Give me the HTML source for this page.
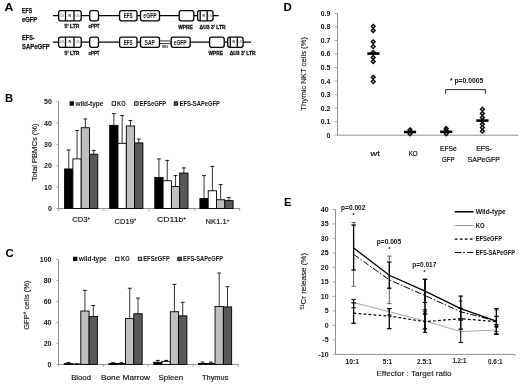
<!DOCTYPE html>
<html><head><meta charset="utf-8"><title>Figure</title>
<style>
html,body{margin:0;padding:0;background:#fff;}
body{width:520px;height:384px;overflow:hidden;}
svg{display:block;font-family:"Liberation Sans", sans-serif;filter:blur(0.35px);}
</style></head><body>
<svg width="520" height="384" viewBox="0 0 520 384">
<rect x="0" y="0" width="520" height="384" fill="#fff"/>
<text x="4.5" y="10.8" font-size="10.8" text-anchor="start" font-weight="bold" fill="#000" textLength="8.9" lengthAdjust="spacingAndGlyphs" >A</text>
<line x1="53" y1="15.65" x2="218.6" y2="15.65" stroke="#000" stroke-width="1.3" />
<text x="22.1" y="12.9" font-size="7" text-anchor="start" font-weight="bold" fill="#111" textLength="10.1" lengthAdjust="spacingAndGlyphs" stroke="#111" stroke-width="0.25">EFS</text>
<text x="22.1" y="21.7" font-size="7" text-anchor="start" font-weight="bold" fill="#111" textLength="15" lengthAdjust="spacingAndGlyphs" stroke="#111" stroke-width="0.25">eGFP</text>
<rect x="58.6" y="10.65" width="22.6" height="10.2" fill="#fff" stroke="#000" stroke-width="1.3" rx="2"/>
<line x1="65.5" y1="10.65" x2="65.5" y2="20.85" stroke="#000" stroke-width="1.3" />
<line x1="74" y1="10.65" x2="74" y2="20.85" stroke="#000" stroke-width="1.3" />
<text x="62" y="16.75" font-size="3.2" text-anchor="middle" font-weight="normal" fill="#555" >U3</text>
<text x="69.8" y="16.85" font-size="3.4" text-anchor="middle" font-weight="bold" fill="#111" >R</text>
<text x="77.6" y="16.75" font-size="3.2" text-anchor="middle" font-weight="normal" fill="#555" >U5</text>
<text x="72" y="28.450000000000003" font-size="5.3" text-anchor="middle" font-weight="bold" fill="#111" textLength="14.8" lengthAdjust="spacingAndGlyphs" stroke="#111" stroke-width="0.3">5' LTR</text>
<rect x="89.7" y="10.65" width="8.8" height="10.2" fill="#fff" stroke="#000" stroke-width="1.3" rx="2"/>
<text x="94" y="28.450000000000003" font-size="5.3" text-anchor="middle" font-weight="bold" fill="#111" textLength="11" lengthAdjust="spacingAndGlyphs" stroke="#111" stroke-width="0.3">cPPT</text>
<rect x="119.6" y="10.65" width="17.4" height="10.2" fill="#fff" stroke="#000" stroke-width="1.3" rx="2"/>
<text x="128.1" y="18.2" font-size="6.3" text-anchor="middle" font-weight="bold" fill="#111" textLength="8.9" lengthAdjust="spacingAndGlyphs" >EFS</text>
<rect x="140.5" y="10.65" width="19" height="10.2" fill="#fff" stroke="#000" stroke-width="1.3" rx="2"/>
<text x="150" y="18.2" font-size="6.3" text-anchor="middle" font-weight="bold" fill="#111" textLength="13.4" lengthAdjust="spacingAndGlyphs" >eGFP</text>
<rect x="179.2" y="10.65" width="14.6" height="10.2" fill="#fff" stroke="#000" stroke-width="1.3" rx="2"/>
<text x="185.39999999999998" y="28.750000000000004" font-size="5.3" text-anchor="middle" font-weight="bold" fill="#111" textLength="14.5" lengthAdjust="spacingAndGlyphs" stroke="#111" stroke-width="0.3">WPRE</text>
<rect x="197.6" y="10.65" width="15.4" height="10.2" fill="#fff" stroke="#000" stroke-width="1.3" rx="2"/>
<line x1="200.2" y1="10.65" x2="200.2" y2="20.85" stroke="#000" stroke-width="1.3" />
<line x1="207.2" y1="10.65" x2="207.2" y2="20.85" stroke="#000" stroke-width="1.3" />
<text x="203.7" y="16.85" font-size="3.4" text-anchor="middle" font-weight="bold" fill="#111" >R</text>
<text x="210.2" y="16.75" font-size="3.2" text-anchor="middle" font-weight="normal" fill="#555" >U5</text>
<text x="199.6" y="28.750000000000004" font-size="5.3" text-anchor="start" font-weight="bold" fill="#111" textLength="26" lengthAdjust="spacingAndGlyphs" stroke="#111" stroke-width="0.3">ΔU3 3' LTR</text>
<line x1="53" y1="42.15" x2="251" y2="42.15" stroke="#000" stroke-width="1.3" />
<text x="22.1" y="40.1" font-size="7" text-anchor="start" font-weight="bold" fill="#111" textLength="12.6" lengthAdjust="spacingAndGlyphs" stroke="#111" stroke-width="0.25">EFS-</text>
<text x="22.1" y="48.8" font-size="7" text-anchor="start" font-weight="bold" fill="#111" textLength="27.7" lengthAdjust="spacingAndGlyphs" stroke="#111" stroke-width="0.25">SAPeGFP</text>
<rect x="58.6" y="37.15" width="22.6" height="10.2" fill="#fff" stroke="#000" stroke-width="1.3" rx="2"/>
<line x1="65.5" y1="37.15" x2="65.5" y2="47.349999999999994" stroke="#000" stroke-width="1.3" />
<line x1="74" y1="37.15" x2="74" y2="47.349999999999994" stroke="#000" stroke-width="1.3" />
<text x="62" y="43.25" font-size="3.2" text-anchor="middle" font-weight="normal" fill="#555" >U3</text>
<text x="69.8" y="43.35" font-size="3.4" text-anchor="middle" font-weight="bold" fill="#111" >R</text>
<text x="77.6" y="43.25" font-size="3.2" text-anchor="middle" font-weight="normal" fill="#555" >U5</text>
<text x="72" y="54.95" font-size="5.3" text-anchor="middle" font-weight="bold" fill="#111" textLength="14.8" lengthAdjust="spacingAndGlyphs" stroke="#111" stroke-width="0.3">5' LTR</text>
<rect x="89.7" y="37.15" width="8.8" height="10.2" fill="#fff" stroke="#000" stroke-width="1.3" rx="2"/>
<text x="94" y="54.95" font-size="5.3" text-anchor="middle" font-weight="bold" fill="#111" textLength="11" lengthAdjust="spacingAndGlyphs" stroke="#111" stroke-width="0.3">cPPT</text>
<rect x="119.6" y="37.15" width="17.4" height="10.2" fill="#fff" stroke="#000" stroke-width="1.3" rx="2"/>
<text x="128.1" y="44.699999999999996" font-size="6.3" text-anchor="middle" font-weight="bold" fill="#111" textLength="8.9" lengthAdjust="spacingAndGlyphs" >EFS</text>
<rect x="140.5" y="37.15" width="19" height="10.2" fill="#fff" stroke="#000" stroke-width="1.3" rx="2"/>
<text x="149.8" y="44.699999999999996" font-size="6.3" text-anchor="middle" font-weight="bold" fill="#111" textLength="10.4" lengthAdjust="spacingAndGlyphs" >SAP</text>
<rect x="160.2" y="40.15" width="10.2" height="4" fill="#fff"/>
<line x1="159.8" y1="40.949999999999996" x2="170.6" y2="40.949999999999996" stroke="#000" stroke-width="0.8" />
<line x1="159.8" y1="43.55" x2="170.6" y2="43.55" stroke="#000" stroke-width="0.8" />
<text x="165" y="48.35" font-size="2.6" text-anchor="middle" font-weight="bold" fill="#111" >IRES</text>
<rect x="171.2" y="37.15" width="19" height="10.2" fill="#fff" stroke="#000" stroke-width="1.3" rx="2"/>
<text x="180.2" y="44.699999999999996" font-size="6.3" text-anchor="middle" font-weight="bold" fill="#111" textLength="13" lengthAdjust="spacingAndGlyphs" >eGFP</text>
<rect x="209.6" y="37.15" width="14.6" height="10.2" fill="#fff" stroke="#000" stroke-width="1.3" rx="2"/>
<text x="215.79999999999998" y="55.25" font-size="5.3" text-anchor="middle" font-weight="bold" fill="#111" textLength="14.5" lengthAdjust="spacingAndGlyphs" stroke="#111" stroke-width="0.3">WPRE</text>
<rect x="227.7" y="37.15" width="15.4" height="10.2" fill="#fff" stroke="#000" stroke-width="1.3" rx="2"/>
<line x1="230.29999999999998" y1="37.15" x2="230.29999999999998" y2="47.349999999999994" stroke="#000" stroke-width="1.3" />
<line x1="237.29999999999998" y1="37.15" x2="237.29999999999998" y2="47.349999999999994" stroke="#000" stroke-width="1.3" />
<text x="233.79999999999998" y="43.35" font-size="3.4" text-anchor="middle" font-weight="bold" fill="#111" >R</text>
<text x="240.29999999999998" y="43.25" font-size="3.2" text-anchor="middle" font-weight="normal" fill="#555" >U5</text>
<text x="229.7" y="55.25" font-size="5.3" text-anchor="start" font-weight="bold" fill="#111" textLength="26" lengthAdjust="spacingAndGlyphs" stroke="#111" stroke-width="0.3">ΔU3 3' LTR</text>
<text x="5.05" y="101.9" font-size="10.8" text-anchor="start" font-weight="bold" fill="#000" textLength="8.1" lengthAdjust="spacingAndGlyphs" >B</text>
<line x1="58.5" y1="101.6" x2="58.5" y2="208.5" stroke="#909090" stroke-width="1" />
<line x1="58.5" y1="208.5" x2="240" y2="208.5" stroke="#909090" stroke-width="1" />
<line x1="56.3" y1="208.5" x2="58.5" y2="208.5" stroke="#909090" stroke-width="0.8" />
<text x="51.9" y="211.0" font-size="7" text-anchor="end" font-weight="bold" fill="#111" >0</text>
<line x1="56.3" y1="187.13" x2="58.5" y2="187.13" stroke="#909090" stroke-width="0.8" />
<text x="51.9" y="189.63" font-size="7" text-anchor="end" font-weight="bold" fill="#111" >10</text>
<line x1="56.3" y1="165.76" x2="58.5" y2="165.76" stroke="#909090" stroke-width="0.8" />
<text x="51.9" y="168.26" font-size="7" text-anchor="end" font-weight="bold" fill="#111" >20</text>
<line x1="56.3" y1="144.39" x2="58.5" y2="144.39" stroke="#909090" stroke-width="0.8" />
<text x="51.9" y="146.89" font-size="7" text-anchor="end" font-weight="bold" fill="#111" >30</text>
<line x1="56.3" y1="123.02" x2="58.5" y2="123.02" stroke="#909090" stroke-width="0.8" />
<text x="51.9" y="125.52" font-size="7" text-anchor="end" font-weight="bold" fill="#111" >40</text>
<line x1="56.3" y1="101.65" x2="58.5" y2="101.65" stroke="#909090" stroke-width="0.8" />
<text x="51.9" y="104.15" font-size="7" text-anchor="end" font-weight="bold" fill="#111" >50</text>
<line x1="58.5" y1="208.5" x2="58.5" y2="211.0" stroke="#909090" stroke-width="0.8" />
<line x1="103.8" y1="208.5" x2="103.8" y2="211.0" stroke="#909090" stroke-width="0.8" />
<line x1="149.1" y1="208.5" x2="149.1" y2="211.0" stroke="#909090" stroke-width="0.8" />
<line x1="194.39999999999998" y1="208.5" x2="194.39999999999998" y2="211.0" stroke="#909090" stroke-width="0.8" />
<line x1="239.7" y1="208.5" x2="239.7" y2="211.0" stroke="#909090" stroke-width="0.8" />
<rect x="64.6" y="168.97" width="8.3" height="39.53" fill="#000" stroke="#000" stroke-width="0.9" rx="0"/>
<line x1="68.75" y1="168.97" x2="68.75" y2="149.95" stroke="#000" stroke-width="0.8" />
<line x1="66.85" y1="149.95" x2="70.65" y2="149.95" stroke="#000" stroke-width="0.9" />
<rect x="72.9" y="158.92" width="8.3" height="49.58" fill="#fff" stroke="#000" stroke-width="0.9" rx="0"/>
<line x1="77.05" y1="158.92" x2="77.05" y2="130.5" stroke="#000" stroke-width="0.8" />
<line x1="75.15" y1="130.5" x2="78.95" y2="130.5" stroke="#000" stroke-width="0.9" />
<rect x="81.2" y="127.72" width="8.3" height="80.78" fill="#bfbfbf" stroke="#000" stroke-width="0.9" rx="0"/>
<line x1="85.35" y1="127.72" x2="85.35" y2="118.96" stroke="#000" stroke-width="0.8" />
<line x1="83.45" y1="118.96" x2="87.25" y2="118.96" stroke="#000" stroke-width="0.9" />
<rect x="89.5" y="154.22" width="8.3" height="54.28" fill="#595959" stroke="#000" stroke-width="0.9" rx="0"/>
<line x1="93.65" y1="154.22" x2="93.65" y2="150.37" stroke="#000" stroke-width="0.8" />
<line x1="91.75" y1="150.37" x2="95.55" y2="150.37" stroke="#000" stroke-width="0.9" />
<rect x="109.7" y="125.37" width="8.3" height="83.13" fill="#000" stroke="#000" stroke-width="0.9" rx="0"/>
<line x1="113.85" y1="125.37" x2="113.85" y2="113.62" stroke="#000" stroke-width="0.8" />
<line x1="111.95" y1="113.62" x2="115.75" y2="113.62" stroke="#000" stroke-width="0.9" />
<rect x="118.0" y="143.32" width="8.3" height="65.18" fill="#fff" stroke="#000" stroke-width="0.9" rx="0"/>
<line x1="122.15" y1="143.32" x2="122.15" y2="115.54" stroke="#000" stroke-width="0.8" />
<line x1="120.25" y1="115.54" x2="124.05" y2="115.54" stroke="#000" stroke-width="0.9" />
<rect x="126.3" y="126.01" width="8.3" height="82.49" fill="#bfbfbf" stroke="#000" stroke-width="0.9" rx="0"/>
<line x1="130.45" y1="126.01" x2="130.45" y2="120.46" stroke="#000" stroke-width="0.8" />
<line x1="128.55" y1="120.46" x2="132.35" y2="120.46" stroke="#000" stroke-width="0.9" />
<rect x="134.6" y="142.89" width="8.3" height="65.61" fill="#595959" stroke="#000" stroke-width="0.9" rx="0"/>
<line x1="138.75" y1="142.89" x2="138.75" y2="139.05" stroke="#000" stroke-width="0.8" />
<line x1="136.85" y1="139.05" x2="140.65" y2="139.05" stroke="#000" stroke-width="0.9" />
<rect x="154.8" y="177.51" width="8.3" height="30.99" fill="#000" stroke="#000" stroke-width="0.9" rx="0"/>
<line x1="158.95" y1="177.51" x2="158.95" y2="158.92" stroke="#000" stroke-width="0.8" />
<line x1="157.05" y1="158.92" x2="160.85" y2="158.92" stroke="#000" stroke-width="0.9" />
<rect x="163.1" y="180.72" width="8.3" height="27.78" fill="#fff" stroke="#000" stroke-width="0.9" rx="0"/>
<line x1="167.25" y1="180.72" x2="167.25" y2="160.42" stroke="#000" stroke-width="0.8" />
<line x1="165.35" y1="160.42" x2="169.15" y2="160.42" stroke="#000" stroke-width="0.9" />
<rect x="171.4" y="186.49" width="8.3" height="22.01" fill="#bfbfbf" stroke="#000" stroke-width="0.9" rx="0"/>
<line x1="175.55" y1="186.49" x2="175.55" y2="175.59" stroke="#000" stroke-width="0.8" />
<line x1="173.65" y1="175.59" x2="177.45" y2="175.59" stroke="#000" stroke-width="0.9" />
<rect x="179.7" y="173.03" width="8.3" height="35.47" fill="#595959" stroke="#000" stroke-width="0.9" rx="0"/>
<line x1="183.85" y1="173.03" x2="183.85" y2="167.9" stroke="#000" stroke-width="0.8" />
<line x1="181.95" y1="167.9" x2="185.75" y2="167.9" stroke="#000" stroke-width="0.9" />
<rect x="199.9" y="198.46" width="8.3" height="10.04" fill="#000" stroke="#000" stroke-width="0.9" rx="0"/>
<line x1="204.05" y1="198.46" x2="204.05" y2="175.59" stroke="#000" stroke-width="0.8" />
<line x1="202.15" y1="175.59" x2="205.95" y2="175.59" stroke="#000" stroke-width="0.9" />
<rect x="208.2" y="190.76" width="8.3" height="17.74" fill="#fff" stroke="#000" stroke-width="0.9" rx="0"/>
<line x1="212.35" y1="190.76" x2="212.35" y2="166.4" stroke="#000" stroke-width="0.8" />
<line x1="210.45" y1="166.4" x2="214.25" y2="166.4" stroke="#000" stroke-width="0.9" />
<rect x="216.5" y="199.74" width="8.3" height="8.76" fill="#bfbfbf" stroke="#000" stroke-width="0.9" rx="0"/>
<line x1="220.65" y1="199.74" x2="220.65" y2="184.57" stroke="#000" stroke-width="0.8" />
<line x1="218.75" y1="184.57" x2="222.55" y2="184.57" stroke="#000" stroke-width="0.9" />
<rect x="224.8" y="200.59" width="8.3" height="7.91" fill="#595959" stroke="#000" stroke-width="0.9" rx="0"/>
<line x1="228.95" y1="200.59" x2="228.95" y2="197.6" stroke="#000" stroke-width="0.8" />
<line x1="227.05" y1="197.6" x2="230.85" y2="197.6" stroke="#000" stroke-width="0.9" />
<rect x="70.0" y="101.75" width="3.5" height="3.5" fill="#000" stroke="#000" stroke-width="0.8" rx="0"/>
<text x="75.4" y="105.6" font-size="6.8" text-anchor="start" font-weight="bold" fill="#111" textLength="27.9" lengthAdjust="spacingAndGlyphs" >wild-type</text>
<rect x="112.10000000000001" y="101.75" width="3.5" height="3.5" fill="#fff" stroke="#000" stroke-width="0.8" rx="0"/>
<text x="117.1" y="105.6" font-size="6.8" text-anchor="start" font-weight="bold" fill="#111" textLength="8.7" lengthAdjust="spacingAndGlyphs" >KO</text>
<rect x="134.6" y="101.75" width="3.5" height="3.5" fill="#bfbfbf" stroke="#000" stroke-width="0.8" rx="0"/>
<text x="139.7" y="105.6" font-size="6.8" text-anchor="start" font-weight="bold" fill="#111" textLength="26.4" lengthAdjust="spacingAndGlyphs" >EFSeGFP</text>
<rect x="174.2" y="101.75" width="3.5" height="3.5" fill="#595959" stroke="#000" stroke-width="0.8" rx="0"/>
<text x="179.7" y="105.6" font-size="6.8" text-anchor="start" font-weight="bold" fill="#111" textLength="40.2" lengthAdjust="spacingAndGlyphs" >EFS-SAPeGFP</text>
<text x="72.3" y="222.3" font-size="8" text-anchor="start" font-weight="normal" fill="#111" textLength="17.7" lengthAdjust="spacingAndGlyphs" stroke="#111" stroke-width="0.16">CD3<tspan font-size="4.5" dy="-2.6">+</tspan></text>
<text x="114.6" y="223.7" font-size="8" text-anchor="start" font-weight="normal" fill="#111" textLength="21.7" lengthAdjust="spacingAndGlyphs" stroke="#111" stroke-width="0.16">CD19<tspan font-size="4.5" dy="-2.6">+</tspan></text>
<text x="157" y="222.3" font-size="8" text-anchor="start" font-weight="normal" fill="#111" textLength="29.2" lengthAdjust="spacingAndGlyphs" stroke="#111" stroke-width="0.16">CD11b<tspan font-size="4.5" dy="-2.6">+</tspan></text>
<text x="205.6" y="224.1" font-size="8" text-anchor="start" font-weight="normal" fill="#111" textLength="23.6" lengthAdjust="spacingAndGlyphs" stroke="#111" stroke-width="0.16">NK1.1<tspan font-size="4.5" dy="-2.6">+</tspan></text>
<text transform="translate(36.7,152.3) rotate(-90)" font-size="8" text-anchor="middle" fill="#111" stroke="#111" stroke-width="0.12" textLength="57.8" lengthAdjust="spacingAndGlyphs">Total PBMCs (%)</text>
<text x="5.55" y="256.8" font-size="10.8" text-anchor="start" font-weight="bold" fill="#000" textLength="8.3" lengthAdjust="spacingAndGlyphs" >C</text>
<line x1="58.5" y1="259.4" x2="58.5" y2="364.4" stroke="#909090" stroke-width="1" />
<line x1="58.5" y1="364.4" x2="238.5" y2="364.4" stroke="#909090" stroke-width="1" />
<line x1="56.3" y1="364.4" x2="58.5" y2="364.4" stroke="#909090" stroke-width="0.8" />
<text x="51.5" y="366.9" font-size="7" text-anchor="end" font-weight="bold" fill="#111" >0</text>
<line x1="56.3" y1="343.41999999999996" x2="58.5" y2="343.41999999999996" stroke="#909090" stroke-width="0.8" />
<text x="51.5" y="345.92" font-size="7" text-anchor="end" font-weight="bold" fill="#111" >20</text>
<line x1="56.3" y1="322.44" x2="58.5" y2="322.44" stroke="#909090" stroke-width="0.8" />
<text x="51.5" y="324.94" font-size="7" text-anchor="end" font-weight="bold" fill="#111" >40</text>
<line x1="56.3" y1="301.46" x2="58.5" y2="301.46" stroke="#909090" stroke-width="0.8" />
<text x="51.5" y="303.96" font-size="7" text-anchor="end" font-weight="bold" fill="#111" >60</text>
<line x1="56.3" y1="280.48" x2="58.5" y2="280.48" stroke="#909090" stroke-width="0.8" />
<text x="51.5" y="282.98" font-size="7" text-anchor="end" font-weight="bold" fill="#111" >80</text>
<line x1="56.3" y1="259.5" x2="58.5" y2="259.5" stroke="#909090" stroke-width="0.8" />
<text x="51.5" y="262.0" font-size="7" text-anchor="end" font-weight="bold" fill="#111" >100</text>
<line x1="58.5" y1="364.4" x2="58.5" y2="366.9" stroke="#909090" stroke-width="0.8" />
<line x1="103.4" y1="364.4" x2="103.4" y2="366.9" stroke="#909090" stroke-width="0.8" />
<line x1="148.3" y1="364.4" x2="148.3" y2="366.9" stroke="#909090" stroke-width="0.8" />
<line x1="193.2" y1="364.4" x2="193.2" y2="366.9" stroke="#909090" stroke-width="0.8" />
<line x1="238.1" y1="364.4" x2="238.1" y2="366.9" stroke="#909090" stroke-width="0.8" />
<rect x="64.2" y="363.67" width="8.3" height="0.73" fill="#000" stroke="#000" stroke-width="0.9" rx="0"/>
<line x1="68.35" y1="363.67" x2="68.35" y2="362.51" stroke="#000" stroke-width="0.8" />
<line x1="66.45" y1="362.51" x2="70.25" y2="362.51" stroke="#000" stroke-width="0.9" />
<rect x="72.5" y="364.09" width="8.3" height="0.31" fill="#fff" stroke="#000" stroke-width="0.9" rx="0"/>
<line x1="76.65" y1="364.09" x2="76.65" y2="363.77" stroke="#000" stroke-width="0.8" />
<line x1="74.75" y1="363.77" x2="78.55" y2="363.77" stroke="#000" stroke-width="0.9" />
<rect x="80.8" y="311.01" width="8.3" height="53.39" fill="#bfbfbf" stroke="#000" stroke-width="0.9" rx="0"/>
<line x1="84.95" y1="311.01" x2="84.95" y2="290.34" stroke="#000" stroke-width="0.8" />
<line x1="83.05" y1="290.34" x2="86.85" y2="290.34" stroke="#000" stroke-width="0.9" />
<rect x="89.1" y="316.46" width="8.3" height="47.94" fill="#595959" stroke="#000" stroke-width="0.9" rx="0"/>
<line x1="93.25" y1="316.46" x2="93.25" y2="305.45" stroke="#000" stroke-width="0.8" />
<line x1="91.35" y1="305.45" x2="95.15" y2="305.45" stroke="#000" stroke-width="0.9" />
<rect x="108.95" y="363.56" width="8.3" height="0.84" fill="#000" stroke="#000" stroke-width="0.9" rx="0"/>
<line x1="113.1" y1="363.56" x2="113.1" y2="362.72" stroke="#000" stroke-width="0.8" />
<line x1="111.2" y1="362.72" x2="115.0" y2="362.72" stroke="#000" stroke-width="0.9" />
<rect x="117.25" y="363.56" width="8.3" height="0.84" fill="#fff" stroke="#000" stroke-width="0.9" rx="0"/>
<line x1="121.4" y1="363.56" x2="121.4" y2="362.72" stroke="#000" stroke-width="0.8" />
<line x1="119.5" y1="362.72" x2="123.3" y2="362.72" stroke="#000" stroke-width="0.9" />
<rect x="125.55" y="318.56" width="8.3" height="45.84" fill="#bfbfbf" stroke="#000" stroke-width="0.9" rx="0"/>
<line x1="129.7" y1="318.56" x2="129.7" y2="288.24" stroke="#000" stroke-width="0.8" />
<line x1="127.8" y1="288.24" x2="131.6" y2="288.24" stroke="#000" stroke-width="0.9" />
<rect x="133.85" y="313.73" width="8.3" height="50.67" fill="#595959" stroke="#000" stroke-width="0.9" rx="0"/>
<line x1="138.0" y1="313.73" x2="138.0" y2="298.1" stroke="#000" stroke-width="0.8" />
<line x1="136.1" y1="298.1" x2="139.9" y2="298.1" stroke="#000" stroke-width="0.9" />
<rect x="153.7" y="362.3" width="8.3" height="2.1" fill="#000" stroke="#000" stroke-width="0.9" rx="0"/>
<line x1="157.85" y1="362.3" x2="157.85" y2="360.41" stroke="#000" stroke-width="0.8" />
<line x1="155.95" y1="360.41" x2="159.75" y2="360.41" stroke="#000" stroke-width="0.9" />
<rect x="162.0" y="361.36" width="8.3" height="3.04" fill="#fff" stroke="#000" stroke-width="0.9" rx="0"/>
<line x1="166.15" y1="361.36" x2="166.15" y2="360.41" stroke="#000" stroke-width="0.8" />
<line x1="164.25" y1="360.41" x2="168.05" y2="360.41" stroke="#000" stroke-width="0.9" />
<rect x="170.3" y="311.74" width="8.3" height="52.66" fill="#bfbfbf" stroke="#000" stroke-width="0.9" rx="0"/>
<line x1="174.45" y1="311.74" x2="174.45" y2="284.36" stroke="#000" stroke-width="0.8" />
<line x1="172.55" y1="284.36" x2="176.35" y2="284.36" stroke="#000" stroke-width="0.9" />
<rect x="178.6" y="315.83" width="8.3" height="48.57" fill="#595959" stroke="#000" stroke-width="0.9" rx="0"/>
<line x1="182.75" y1="315.83" x2="182.75" y2="302.3" stroke="#000" stroke-width="0.8" />
<line x1="180.85" y1="302.3" x2="184.65" y2="302.3" stroke="#000" stroke-width="0.9" />
<rect x="198.45" y="363.46" width="8.3" height="0.94" fill="#000" stroke="#000" stroke-width="0.9" rx="0"/>
<line x1="202.6" y1="363.46" x2="202.6" y2="362.09" stroke="#000" stroke-width="0.8" />
<line x1="200.7" y1="362.09" x2="204.5" y2="362.09" stroke="#000" stroke-width="0.9" />
<rect x="206.75" y="363.46" width="8.3" height="0.94" fill="#fff" stroke="#000" stroke-width="0.9" rx="0"/>
<line x1="210.9" y1="363.46" x2="210.9" y2="362.09" stroke="#000" stroke-width="0.8" />
<line x1="209.0" y1="362.09" x2="212.8" y2="362.09" stroke="#000" stroke-width="0.9" />
<rect x="215.05" y="306.5" width="8.3" height="57.9" fill="#bfbfbf" stroke="#000" stroke-width="0.9" rx="0"/>
<line x1="219.2" y1="306.5" x2="219.2" y2="273.03" stroke="#000" stroke-width="0.8" />
<line x1="217.3" y1="273.03" x2="221.1" y2="273.03" stroke="#000" stroke-width="0.9" />
<rect x="223.35" y="306.91" width="8.3" height="57.49" fill="#595959" stroke="#000" stroke-width="0.9" rx="0"/>
<line x1="227.5" y1="306.91" x2="227.5" y2="286.67" stroke="#000" stroke-width="0.8" />
<line x1="225.6" y1="286.67" x2="229.4" y2="286.67" stroke="#000" stroke-width="0.9" />
<rect x="73.5" y="257.15" width="3.5" height="3.5" fill="#000" stroke="#000" stroke-width="0.8" rx="0"/>
<text x="79" y="261.0" font-size="6.8" text-anchor="start" font-weight="bold" fill="#111" textLength="27.6" lengthAdjust="spacingAndGlyphs" >wild-type</text>
<rect x="115.5" y="257.15" width="3.5" height="3.5" fill="#fff" stroke="#000" stroke-width="0.8" rx="0"/>
<text x="121" y="261.0" font-size="6.8" text-anchor="start" font-weight="bold" fill="#111" textLength="8.6" lengthAdjust="spacingAndGlyphs" >KO</text>
<rect x="138.2" y="257.15" width="3.5" height="3.5" fill="#bfbfbf" stroke="#000" stroke-width="0.8" rx="0"/>
<text x="143.2" y="261.0" font-size="6.8" text-anchor="start" font-weight="bold" fill="#111" textLength="26.6" lengthAdjust="spacingAndGlyphs" >EFSeGFP</text>
<rect x="177.79999999999998" y="257.15" width="3.5" height="3.5" fill="#595959" stroke="#000" stroke-width="0.8" rx="0"/>
<text x="183.1" y="261.0" font-size="6.8" text-anchor="start" font-weight="bold" fill="#111" textLength="40" lengthAdjust="spacingAndGlyphs" >EFS-SAPeGFP</text>
<text x="71.2" y="379.6" font-size="8" text-anchor="start" font-weight="normal" fill="#111" textLength="19.8" lengthAdjust="spacingAndGlyphs" stroke="#111" stroke-width="0.16">Blood</text>
<text x="101" y="379.6" font-size="8" text-anchor="start" font-weight="normal" fill="#111" textLength="49" lengthAdjust="spacingAndGlyphs" stroke="#111" stroke-width="0.16">Bone Marrow</text>
<text x="158.6" y="379.6" font-size="8" text-anchor="start" font-weight="normal" fill="#111" textLength="24.4" lengthAdjust="spacingAndGlyphs" stroke="#111" stroke-width="0.16">Spleen</text>
<text x="202" y="379.6" font-size="8" text-anchor="start" font-weight="normal" fill="#111" textLength="26.4" lengthAdjust="spacingAndGlyphs" stroke="#111" stroke-width="0.16">Thymus</text>
<text transform="translate(28.9,305.1) rotate(-90)" font-size="8" text-anchor="middle" fill="#111" stroke="#111" stroke-width="0.12" textLength="49.5" lengthAdjust="spacingAndGlyphs">GFP<tspan font-size="4.5" dy="-2.6">+</tspan><tspan dy="2.6"> cells (%)</tspan></text>
<text x="283.4" y="10.8" font-size="10.8" text-anchor="start" font-weight="bold" fill="#000" textLength="8.3" lengthAdjust="spacingAndGlyphs" >D</text>
<line x1="337.5" y1="13.3" x2="337.5" y2="135.2" stroke="#909090" stroke-width="1" />
<line x1="337.5" y1="135.2" x2="518.5" y2="135.2" stroke="#909090" stroke-width="1" />
<line x1="334.5" y1="135.2" x2="337.5" y2="135.2" stroke="#909090" stroke-width="0.8" />
<text x="330.3" y="137.65" font-size="6.9" text-anchor="end" font-weight="bold" fill="#111" >0</text>
<line x1="334.5" y1="121.66999999999999" x2="337.5" y2="121.66999999999999" stroke="#909090" stroke-width="0.8" />
<text x="330.3" y="124.12" font-size="6.9" text-anchor="end" font-weight="bold" fill="#111" >0.1</text>
<line x1="334.5" y1="108.13999999999999" x2="337.5" y2="108.13999999999999" stroke="#909090" stroke-width="0.8" />
<text x="330.3" y="110.59" font-size="6.9" text-anchor="end" font-weight="bold" fill="#111" >0.2</text>
<line x1="334.5" y1="94.60999999999999" x2="337.5" y2="94.60999999999999" stroke="#909090" stroke-width="0.8" />
<text x="330.3" y="97.06" font-size="6.9" text-anchor="end" font-weight="bold" fill="#111" >0.3</text>
<line x1="334.5" y1="81.07999999999998" x2="337.5" y2="81.07999999999998" stroke="#909090" stroke-width="0.8" />
<text x="330.3" y="83.53" font-size="6.9" text-anchor="end" font-weight="bold" fill="#111" >0.4</text>
<line x1="334.5" y1="67.54999999999998" x2="337.5" y2="67.54999999999998" stroke="#909090" stroke-width="0.8" />
<text x="330.3" y="70.0" font-size="6.9" text-anchor="end" font-weight="bold" fill="#111" >0.5</text>
<line x1="334.5" y1="54.01999999999998" x2="337.5" y2="54.01999999999998" stroke="#909090" stroke-width="0.8" />
<text x="330.3" y="56.47" font-size="6.9" text-anchor="end" font-weight="bold" fill="#111" >0.6</text>
<line x1="334.5" y1="40.48999999999998" x2="337.5" y2="40.48999999999998" stroke="#909090" stroke-width="0.8" />
<text x="330.3" y="42.94" font-size="6.9" text-anchor="end" font-weight="bold" fill="#111" >0.7</text>
<line x1="334.5" y1="26.95999999999998" x2="337.5" y2="26.95999999999998" stroke="#909090" stroke-width="0.8" />
<text x="330.3" y="29.41" font-size="6.9" text-anchor="end" font-weight="bold" fill="#111" >0.8</text>
<line x1="334.5" y1="13.429999999999978" x2="337.5" y2="13.429999999999978" stroke="#909090" stroke-width="0.8" />
<text x="330.3" y="15.88" font-size="6.9" text-anchor="end" font-weight="bold" fill="#111" >0.9</text>
<path d="M373.2 24.3L375.2 26.3L373.2 28.3L371.2 26.3Z" fill="#b4b4b4" stroke="#0c0c0c" stroke-width="1.3"/>
<path d="M373.2 28.5L375.2 30.5L373.2 32.5L371.2 30.5Z" fill="#b4b4b4" stroke="#0c0c0c" stroke-width="1.3"/>
<path d="M373.2 39.8L375.2 41.8L373.2 43.8L371.2 41.8Z" fill="#b4b4b4" stroke="#0c0c0c" stroke-width="1.3"/>
<path d="M373.2 44.6L375.2 46.6L373.2 48.6L371.2 46.6Z" fill="#b4b4b4" stroke="#0c0c0c" stroke-width="1.3"/>
<path d="M373.2 50.5L375.2 52.5L373.2 54.5L371.2 52.5Z" fill="#b4b4b4" stroke="#0c0c0c" stroke-width="1.3"/>
<path d="M373.2 55.5L375.2 57.5L373.2 59.5L371.2 57.5Z" fill="#b4b4b4" stroke="#0c0c0c" stroke-width="1.3"/>
<path d="M373.2 59.5L375.2 61.5L373.2 63.5L371.2 61.5Z" fill="#b4b4b4" stroke="#0c0c0c" stroke-width="1.3"/>
<path d="M373.2 75.3L375.2 77.3L373.2 79.3L371.2 77.3Z" fill="#b4b4b4" stroke="#0c0c0c" stroke-width="1.3"/>
<path d="M373.2 79.6L375.2 81.6L373.2 83.6L371.2 81.6Z" fill="#b4b4b4" stroke="#0c0c0c" stroke-width="1.3"/>
<line x1="367.29999999999995" y1="53.6" x2="379.5" y2="53.6" stroke="#000" stroke-width="2.6" />
<path d="M410 127.80000000000001L412.0 129.8L410 131.8L408.0 129.8Z" fill="#b4b4b4" stroke="#0c0c0c" stroke-width="1.3"/>
<path d="M410 129.8L412.0 131.8L410 133.8L408.0 131.8Z" fill="#b4b4b4" stroke="#0c0c0c" stroke-width="1.3"/>
<path d="M410 131.8L412.0 133.8L410 135.8L408.0 133.8Z" fill="#b4b4b4" stroke="#0c0c0c" stroke-width="1.3"/>
<line x1="403.9" y1="132" x2="416.1" y2="132" stroke="#000" stroke-width="2.6" />
<path d="M446.2 126.4L448.2 128.4L446.2 130.4L444.2 128.4Z" fill="#b4b4b4" stroke="#0c0c0c" stroke-width="1.3"/>
<path d="M446.2 128.5L448.2 130.5L446.2 132.5L444.2 130.5Z" fill="#b4b4b4" stroke="#0c0c0c" stroke-width="1.3"/>
<path d="M446.2 130.3L448.2 132.3L446.2 134.3L444.2 132.3Z" fill="#b4b4b4" stroke="#0c0c0c" stroke-width="1.3"/>
<path d="M446.2 131.8L448.2 133.8L446.2 135.8L444.2 133.8Z" fill="#b4b4b4" stroke="#0c0c0c" stroke-width="1.3"/>
<line x1="440.09999999999997" y1="131.8" x2="452.3" y2="131.8" stroke="#000" stroke-width="2.6" />
<path d="M482.4 107.2L484.4 109.2L482.4 111.2L480.4 109.2Z" fill="#b4b4b4" stroke="#0c0c0c" stroke-width="1.3"/>
<path d="M482.4 111.5L484.4 113.5L482.4 115.5L480.4 113.5Z" fill="#b4b4b4" stroke="#0c0c0c" stroke-width="1.3"/>
<path d="M482.4 115.5L484.4 117.5L482.4 119.5L480.4 117.5Z" fill="#b4b4b4" stroke="#0c0c0c" stroke-width="1.3"/>
<path d="M482.4 118.8L484.4 120.8L482.4 122.8L480.4 120.8Z" fill="#b4b4b4" stroke="#0c0c0c" stroke-width="1.3"/>
<path d="M482.4 122.2L484.4 124.2L482.4 126.2L480.4 124.2Z" fill="#b4b4b4" stroke="#0c0c0c" stroke-width="1.3"/>
<path d="M482.4 125.6L484.4 127.6L482.4 129.6L480.4 127.6Z" fill="#b4b4b4" stroke="#0c0c0c" stroke-width="1.3"/>
<path d="M482.4 129.2L484.4 131.2L482.4 133.2L480.4 131.2Z" fill="#b4b4b4" stroke="#0c0c0c" stroke-width="1.3"/>
<line x1="476.29999999999995" y1="120.6" x2="488.5" y2="120.6" stroke="#000" stroke-width="2.6" />
<path d="M445.6 93.8V89.6H485.4V93.8" fill="none" stroke="#111" stroke-width="0.9"/>
<text x="450" y="82.5" font-size="6.6" text-anchor="start" font-weight="bold" fill="#111" textLength="33.2" lengthAdjust="spacingAndGlyphs" >* p=0.0005</text>
<text x="370.5" y="156.4" font-size="8" text-anchor="start" font-weight="normal" fill="#111" textLength="9.3" lengthAdjust="spacingAndGlyphs" stroke="#111" stroke-width="0.22">wt</text>
<text x="408.7" y="156.3" font-size="8" text-anchor="start" font-weight="normal" fill="#111" textLength="9" lengthAdjust="spacingAndGlyphs" stroke="#111" stroke-width="0.22">KO</text>
<text x="440" y="151.2" font-size="8" text-anchor="start" font-weight="normal" fill="#111" textLength="16.8" lengthAdjust="spacingAndGlyphs" stroke="#111" stroke-width="0.22">EFSe</text>
<text x="442" y="162" font-size="8" text-anchor="start" font-weight="normal" fill="#111" textLength="12.6" lengthAdjust="spacingAndGlyphs" stroke="#111" stroke-width="0.22">GFP</text>
<text x="476.2" y="151.2" font-size="8" text-anchor="start" font-weight="normal" fill="#111" textLength="15.6" lengthAdjust="spacingAndGlyphs" stroke="#111" stroke-width="0.22">EFS-</text>
<text x="467.5" y="162" font-size="8" text-anchor="start" font-weight="normal" fill="#111" textLength="32.5" lengthAdjust="spacingAndGlyphs" stroke="#111" stroke-width="0.22">SAPeGFP</text>
<text transform="translate(305.8,73.8) rotate(-90)" font-size="8" text-anchor="middle" fill="#111" stroke="#111" stroke-width="0.12" textLength="73.7" lengthAdjust="spacingAndGlyphs">Thymic NKT cells (%)</text>
<text x="284.0" y="205.75" font-size="10.8" text-anchor="start" font-weight="bold" fill="#000" textLength="7.5" lengthAdjust="spacingAndGlyphs" >E</text>
<line x1="335.5" y1="209.4" x2="335.5" y2="354.4" stroke="#909090" stroke-width="1" />
<line x1="335.5" y1="354.4" x2="515" y2="354.4" stroke="#909090" stroke-width="1" />
<line x1="332.5" y1="354.4" x2="335.5" y2="354.4" stroke="#909090" stroke-width="0.8" />
<text x="328.6" y="356.9" font-size="7" text-anchor="end" font-weight="bold" fill="#111" >-10</text>
<line x1="332.5" y1="339.9" x2="335.5" y2="339.9" stroke="#909090" stroke-width="0.8" />
<text x="328.6" y="342.4" font-size="7" text-anchor="end" font-weight="bold" fill="#111" >-5</text>
<line x1="332.5" y1="325.4" x2="335.5" y2="325.4" stroke="#909090" stroke-width="0.8" />
<text x="328.6" y="327.9" font-size="7" text-anchor="end" font-weight="bold" fill="#111" >0</text>
<line x1="332.5" y1="310.9" x2="335.5" y2="310.9" stroke="#909090" stroke-width="0.8" />
<text x="328.6" y="313.4" font-size="7" text-anchor="end" font-weight="bold" fill="#111" >5</text>
<line x1="332.5" y1="296.4" x2="335.5" y2="296.4" stroke="#909090" stroke-width="0.8" />
<text x="328.6" y="298.9" font-size="7" text-anchor="end" font-weight="bold" fill="#111" >10</text>
<line x1="332.5" y1="281.9" x2="335.5" y2="281.9" stroke="#909090" stroke-width="0.8" />
<text x="328.6" y="284.4" font-size="7" text-anchor="end" font-weight="bold" fill="#111" >15</text>
<line x1="332.5" y1="267.4" x2="335.5" y2="267.4" stroke="#909090" stroke-width="0.8" />
<text x="328.6" y="269.9" font-size="7" text-anchor="end" font-weight="bold" fill="#111" >20</text>
<line x1="332.5" y1="252.9" x2="335.5" y2="252.9" stroke="#909090" stroke-width="0.8" />
<text x="328.6" y="255.4" font-size="7" text-anchor="end" font-weight="bold" fill="#111" >25</text>
<line x1="332.5" y1="238.4" x2="335.5" y2="238.4" stroke="#909090" stroke-width="0.8" />
<text x="328.6" y="240.9" font-size="7" text-anchor="end" font-weight="bold" fill="#111" >30</text>
<line x1="332.5" y1="223.9" x2="335.5" y2="223.9" stroke="#909090" stroke-width="0.8" />
<text x="328.6" y="226.4" font-size="7" text-anchor="end" font-weight="bold" fill="#111" >35</text>
<line x1="332.5" y1="209.4" x2="335.5" y2="209.4" stroke="#909090" stroke-width="0.8" />
<text x="328.6" y="211.9" font-size="7" text-anchor="end" font-weight="bold" fill="#111" >40</text>
<line x1="515.0" y1="354.4" x2="515.0" y2="356.2" stroke="#909090" stroke-width="0.7" />
<text x="352.3" y="363.8" font-size="6.9" text-anchor="middle" font-weight="bold" fill="#111" textLength="13.6" lengthAdjust="spacingAndGlyphs" >10:1</text>
<text x="387.5" y="363.8" font-size="6.9" text-anchor="middle" font-weight="bold" fill="#111" textLength="9.3" lengthAdjust="spacingAndGlyphs" >5:1</text>
<text x="424.5" y="363.8" font-size="6.9" text-anchor="middle" font-weight="bold" fill="#111" textLength="14.8" lengthAdjust="spacingAndGlyphs" >2.5:1</text>
<text x="459.4" y="363.3" font-size="6.9" text-anchor="middle" font-weight="bold" fill="#111" textLength="14" lengthAdjust="spacingAndGlyphs" >1.2:1</text>
<text x="495.3" y="363.8" font-size="6.9" text-anchor="middle" font-weight="bold" fill="#111" textLength="14.6" lengthAdjust="spacingAndGlyphs" >0.6:1</text>
<polyline points="353.6,302.49 389.3,311.77 425,321.05 460.7,331.49 496.4,330.04" fill="none" stroke="#a8a8a8" stroke-width="1.15"/>
<line x1="353.6" y1="222.45" x2="353.6" y2="286.25" stroke="#3a3a3a" stroke-width="0.8" />
<line x1="351.40000000000003" y1="222.45" x2="355.8" y2="222.45" stroke="#3a3a3a" stroke-width="0.8" />
<line x1="351.40000000000003" y1="286.25" x2="355.8" y2="286.25" stroke="#3a3a3a" stroke-width="0.8" />
<line x1="353.6" y1="299.59" x2="353.6" y2="307.71" stroke="#111" stroke-width="1.1" />
<line x1="351.40000000000003" y1="299.59" x2="355.8" y2="299.59" stroke="#111" stroke-width="1.1" />
<line x1="351.40000000000003" y1="307.71" x2="355.8" y2="307.71" stroke="#111" stroke-width="1.1" />
<line x1="353.6" y1="225.06" x2="353.6" y2="270.01" stroke="#000" stroke-width="1.3" />
<line x1="351.40000000000003" y1="225.06" x2="355.8" y2="225.06" stroke="#000" stroke-width="1.3" />
<line x1="351.40000000000003" y1="270.01" x2="355.8" y2="270.01" stroke="#000" stroke-width="1.3" />
<line x1="353.6" y1="302.78" x2="353.6" y2="323.37" stroke="#000" stroke-width="1.3" />
<line x1="351.40000000000003" y1="302.78" x2="355.8" y2="302.78" stroke="#000" stroke-width="1.3" />
<line x1="351.40000000000003" y1="323.37" x2="355.8" y2="323.37" stroke="#000" stroke-width="1.3" />
<line x1="389.3" y1="256.09" x2="389.3" y2="303.65" stroke="#3a3a3a" stroke-width="0.8" />
<line x1="387.1" y1="256.09" x2="391.5" y2="256.09" stroke="#3a3a3a" stroke-width="0.8" />
<line x1="387.1" y1="303.65" x2="391.5" y2="303.65" stroke="#3a3a3a" stroke-width="0.8" />
<line x1="389.3" y1="308.58" x2="389.3" y2="314.96" stroke="#111" stroke-width="1.1" />
<line x1="387.1" y1="308.58" x2="391.5" y2="308.58" stroke="#111" stroke-width="1.1" />
<line x1="387.1" y1="314.96" x2="391.5" y2="314.96" stroke="#111" stroke-width="1.1" />
<line x1="389.3" y1="262.18" x2="389.3" y2="288.28" stroke="#000" stroke-width="1.3" />
<line x1="387.1" y1="262.18" x2="391.5" y2="262.18" stroke="#000" stroke-width="1.3" />
<line x1="387.1" y1="288.28" x2="391.5" y2="288.28" stroke="#000" stroke-width="1.3" />
<line x1="389.3" y1="308.58" x2="389.3" y2="328.59" stroke="#000" stroke-width="1.3" />
<line x1="387.1" y1="308.58" x2="391.5" y2="308.58" stroke="#000" stroke-width="1.3" />
<line x1="387.1" y1="328.59" x2="391.5" y2="328.59" stroke="#000" stroke-width="1.3" />
<line x1="425" y1="279.29" x2="425" y2="311.48" stroke="#3a3a3a" stroke-width="0.8" />
<line x1="422.8" y1="279.29" x2="427.2" y2="279.29" stroke="#3a3a3a" stroke-width="0.8" />
<line x1="422.8" y1="311.48" x2="427.2" y2="311.48" stroke="#3a3a3a" stroke-width="0.8" />
<line x1="425" y1="309.74" x2="425" y2="332.36" stroke="#111" stroke-width="1.1" />
<line x1="422.8" y1="309.74" x2="427.2" y2="309.74" stroke="#111" stroke-width="1.1" />
<line x1="422.8" y1="332.36" x2="427.2" y2="332.36" stroke="#111" stroke-width="1.1" />
<line x1="425" y1="279.29" x2="425" y2="302.49" stroke="#000" stroke-width="1.3" />
<line x1="422.8" y1="279.29" x2="427.2" y2="279.29" stroke="#000" stroke-width="1.3" />
<line x1="422.8" y1="302.49" x2="427.2" y2="302.49" stroke="#000" stroke-width="1.3" />
<line x1="425" y1="314.09" x2="425" y2="328.88" stroke="#000" stroke-width="1.3" />
<line x1="422.8" y1="314.09" x2="427.2" y2="314.09" stroke="#000" stroke-width="1.3" />
<line x1="422.8" y1="328.88" x2="427.2" y2="328.88" stroke="#000" stroke-width="1.3" />
<line x1="460.7" y1="301.04" x2="460.7" y2="319.02" stroke="#3a3a3a" stroke-width="0.8" />
<line x1="458.5" y1="301.04" x2="462.9" y2="301.04" stroke="#3a3a3a" stroke-width="0.8" />
<line x1="458.5" y1="319.02" x2="462.9" y2="319.02" stroke="#3a3a3a" stroke-width="0.8" />
<line x1="460.7" y1="318.73" x2="460.7" y2="342.51" stroke="#111" stroke-width="1.1" />
<line x1="458.5" y1="318.73" x2="462.9" y2="318.73" stroke="#111" stroke-width="1.1" />
<line x1="458.5" y1="342.51" x2="462.9" y2="342.51" stroke="#111" stroke-width="1.1" />
<line x1="460.7" y1="296.11" x2="460.7" y2="320.18" stroke="#000" stroke-width="1.3" />
<line x1="458.5" y1="296.11" x2="462.9" y2="296.11" stroke="#000" stroke-width="1.3" />
<line x1="458.5" y1="320.18" x2="462.9" y2="320.18" stroke="#000" stroke-width="1.3" />
<line x1="460.7" y1="308.29" x2="460.7" y2="329.17" stroke="#000" stroke-width="1.3" />
<line x1="458.5" y1="308.29" x2="462.9" y2="308.29" stroke="#000" stroke-width="1.3" />
<line x1="458.5" y1="329.17" x2="462.9" y2="329.17" stroke="#000" stroke-width="1.3" />
<line x1="496.4" y1="310.03" x2="496.4" y2="331.49" stroke="#3a3a3a" stroke-width="0.8" />
<line x1="494.2" y1="310.03" x2="498.59999999999997" y2="310.03" stroke="#3a3a3a" stroke-width="0.8" />
<line x1="494.2" y1="331.49" x2="498.59999999999997" y2="331.49" stroke="#3a3a3a" stroke-width="0.8" />
<line x1="496.4" y1="324.53" x2="496.4" y2="334.39" stroke="#111" stroke-width="1.1" />
<line x1="494.2" y1="324.53" x2="498.59999999999997" y2="324.53" stroke="#111" stroke-width="1.1" />
<line x1="494.2" y1="334.39" x2="498.59999999999997" y2="334.39" stroke="#111" stroke-width="1.1" />
<line x1="496.4" y1="308.58" x2="496.4" y2="333.81" stroke="#000" stroke-width="1.3" />
<line x1="494.2" y1="308.58" x2="498.59999999999997" y2="308.58" stroke="#000" stroke-width="1.3" />
<line x1="494.2" y1="333.81" x2="498.59999999999997" y2="333.81" stroke="#000" stroke-width="1.3" />
<line x1="496.4" y1="316.41" x2="496.4" y2="326.56" stroke="#000" stroke-width="1.3" />
<line x1="494.2" y1="316.41" x2="498.59999999999997" y2="316.41" stroke="#000" stroke-width="1.3" />
<line x1="494.2" y1="326.56" x2="498.59999999999997" y2="326.56" stroke="#000" stroke-width="1.3" />
<line x1="425" y1="279.29" x2="425" y2="332.36" stroke="#000" stroke-width="1.3" />
<polyline points="353.6,313.22 389.3,316.12 425,321.63 460.7,318.73 496.4,321.63" fill="none" stroke="#000" stroke-width="1.2" stroke-dasharray="2.8 2.2"/>
<polyline points="353.6,254.35 389.3,279.87 425,295.53 460.7,311.77 496.4,321.05" fill="none" stroke="#000" stroke-width="1.0" stroke-dasharray="6.5 2 1.5 2"/>
<polyline points="353.6,247.97 389.3,275.23 425,291.18 460.7,308.58 496.4,321.05" fill="none" stroke="#000" stroke-width="1.3"/>
<rect x="494.9" y="324.8" width="3" height="3" fill="#000" stroke="#000" stroke-width="0" rx="0"/>
<rect x="423.6" y="312.2" width="2.8" height="2.6" fill="#000" stroke="#000" stroke-width="0" rx="0"/>
<text x="341" y="209.8" font-size="6.6" text-anchor="start" font-weight="bold" fill="#111" textLength="24.4" lengthAdjust="spacingAndGlyphs" >p=0.002</text>
<text x="353.4" y="216.8" font-size="6" text-anchor="middle" font-weight="bold" fill="#111" >*</text>
<text x="376.8" y="244" font-size="6.6" text-anchor="start" font-weight="bold" fill="#111" textLength="24.4" lengthAdjust="spacingAndGlyphs" >p=0.005</text>
<text x="389.3" y="250.8" font-size="6" text-anchor="middle" font-weight="bold" fill="#111" >*</text>
<text x="412.3" y="266.5" font-size="6.6" text-anchor="start" font-weight="bold" fill="#111" textLength="24" lengthAdjust="spacingAndGlyphs" >p=0.017</text>
<text x="424.4" y="273.8" font-size="6" text-anchor="middle" font-weight="bold" fill="#111" >*</text>
<line x1="454.8" y1="211.8" x2="473.4" y2="211.8" stroke="#000" stroke-width="1.5" />
<text x="475.7" y="214.1" font-size="6.6" text-anchor="start" font-weight="bold" fill="#111" textLength="30" lengthAdjust="spacingAndGlyphs" >Wild-type</text>
<line x1="454.8" y1="225.6" x2="473.4" y2="225.6" stroke="#858585" stroke-width="0.9" />
<text x="475.7" y="227.9" font-size="6.6" text-anchor="start" font-weight="bold" fill="#111" textLength="9" lengthAdjust="spacingAndGlyphs" >KO</text>
<line x1="454.8" y1="239.1" x2="473.4" y2="239.1" stroke="#000" stroke-width="1.2" stroke-dasharray="2.8 2.2"/>
<text x="475.7" y="241.3" font-size="6.6" text-anchor="start" font-weight="bold" fill="#111" textLength="26.3" lengthAdjust="spacingAndGlyphs" >EFSeGFP</text>
<line x1="454.8" y1="252.5" x2="473.4" y2="252.5" stroke="#000" stroke-width="1.2" stroke-dasharray="6.5 2 1.5 2"/>
<text x="475.7" y="254.6" font-size="6.6" text-anchor="start" font-weight="bold" fill="#111" textLength="39.3" lengthAdjust="spacingAndGlyphs" >EFS-SAPeGFP</text>
<text x="376.4" y="375.5" font-size="8.1" text-anchor="start" font-weight="normal" fill="#111" textLength="75.2" lengthAdjust="spacingAndGlyphs" stroke="#111" stroke-width="0.12">Effector : Target ratio</text>
<text transform="translate(306.3,281.2) rotate(-90)" font-size="8" text-anchor="middle" fill="#111" stroke="#111" stroke-width="0.12" textLength="56.5" lengthAdjust="spacingAndGlyphs"><tspan font-size="4.5" dy="-2.6">51</tspan><tspan dy="2.6">Cr release (%)</tspan></text>
</svg>
</body></html>
